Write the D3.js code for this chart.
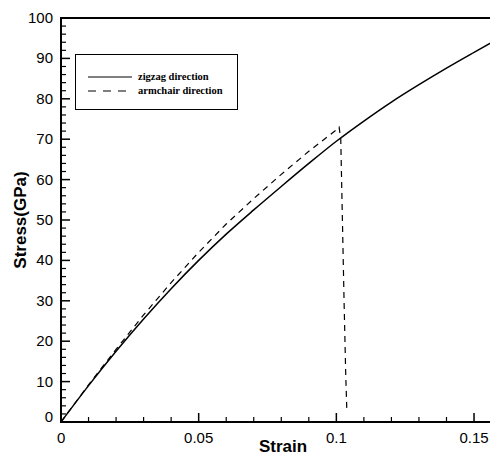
<!DOCTYPE html>
<html>
<head>
<meta charset="utf-8">
<script src="https://cdn.jsdelivr.net/npm/d3@7"></script>
<style>
  body { margin: 0; background: #fff; }
  svg { display: block; }
</style>
</head>
<body>
<script>
// strain / stress
var zigzagStrain = [0, 0.01, 0.02, 0.03, 0.04, 0.05, 0.06, 0.07, 0.08, 0.09, 0.10, 0.11, 0.12, 0.13, 0.14, 0.15, 0.156];
var zigzagStress = [0, 9, 17.5, 25.5, 33, 40, 46.5, 52.5, 58.3, 64, 69.5, 74.5, 79.2, 83.5, 87.6, 91.5, 93.8];

var armchairStrain = [0, 0.01, 0.02, 0.03, 0.04, 0.05, 0.06, 0.07, 0.08, 0.09, 0.10, 0.101, 0.1016, 0.1022, 0.1028, 0.1034, 0.1038];
var armchairStress = [0, 9.2, 18, 26.5, 34.5, 42, 49, 55.3, 61.3, 67, 72.3, 73, 70, 50, 30, 12, 3];

var xTicks = [0, 0.05, 0.1, 0.15];
var yTicks = [0, 10, 20, 30, 40, 50, 60, 70, 80, 90, 100];
var legendLabels = ["zigzag direction", "armchair direction"];

var width = 490, height = 457;
var svg = d3.select("body").append("svg")
            .attr("width", width)
            .attr("height", height);

var x = d3.scaleLinear().domain([0, 0.1558]).range([61, 490]);
var y = d3.scaleLinear().domain([0, 100]).range([422, 18]);

// minor ticks
var xMinor = d3.range(0, 0.1551, 0.01).filter(function (d) { return xTicks.indexOf(+d.toFixed(2)) < 0; });
var yMinor = d3.range(0, 100.1, 2).filter(function (d) { return d % 10 !== 0; });

svg.selectAll(".xminor").data(xMinor).enter().append("line")
   .attr("x1", function (d) { return x(d); }).attr("x2", function (d) { return x(d); })
   .attr("y1", 422).attr("y2", 417)
   .attr("stroke", "#000").attr("stroke-width", 1.2);
svg.selectAll(".xmajor").data(xTicks).enter().append("line")
   .attr("x1", function (d) { return x(d); }).attr("x2", function (d) { return x(d); })
   .attr("y1", 422).attr("y2", 413)
   .attr("stroke", "#000").attr("stroke-width", 1.5);
svg.selectAll(".yminor").data(yMinor).enter().append("line")
   .attr("y1", function (d) { return y(d); }).attr("y2", function (d) { return y(d); })
   .attr("x1", 61).attr("x2", 66)
   .attr("stroke", "#000").attr("stroke-width", 1.2);
svg.selectAll(".ymajor").data(yTicks).enter().append("line")
   .attr("y1", function (d) { return y(d); }).attr("y2", function (d) { return y(d); })
   .attr("x1", 61).attr("x2", 70)
   .attr("stroke", "#000").attr("stroke-width", 1.5);

// frame: left, bottom, top
svg.append("path")
   .attr("d", "M490," + y(100) + "H" + x(0) + "V" + y(0) + "H490")
   .attr("fill", "none").attr("stroke", "#000").attr("stroke-width", 2);

// tick labels
svg.selectAll(".xlab").data(xTicks).enter().append("text")
   .attr("x", function (d) { return x(d); })
   .attr("y", 443)
   .attr("text-anchor", function (d) { return d === 0 ? "start" : "middle"; })
   .attr("dx", function (d) { return d === 0 ? -4 : 0; })
   .attr("font-family", "Liberation Sans, Arial, sans-serif")
   .attr("font-size", 15)
   .text(function (d) { return d; });
svg.selectAll(".ylab").data(yTicks).enter().append("text")
   .attr("x", 53)
   .attr("y", function (d) { return y(d) + 5 - (d === 0 ? 5 : 0); })
   .attr("text-anchor", "end")
   .attr("font-family", "Liberation Sans, Arial, sans-serif")
   .attr("font-size", 15)
   .text(function (d) { return d; });

// axis titles
svg.append("text")
   .attr("x", 283).attr("y", 452)
   .attr("text-anchor", "middle")
   .attr("font-family", "Liberation Sans, Arial, sans-serif")
   .attr("font-size", 17).attr("font-weight", "bold")
   .text("Strain");
svg.append("text")
   .attr("transform", "translate(26,220) rotate(-90)")
   .attr("text-anchor", "middle")
   .attr("font-family", "Liberation Sans, Arial, sans-serif")
   .attr("font-size", 17).attr("font-weight", "bold")
   .text("Stress(GPa)");

// curves
var line = d3.line()
             .x(function (d) { return x(d[0]); })
             .y(function (d) { return y(d[1]); })
             .curve(d3.curveMonotoneX);

var zigzag = d3.zip(zigzagStrain, zigzagStress);
var armchair = d3.zip(armchairStrain, armchairStress);

svg.append("path").datum(zigzag)
   .attr("d", line)
   .attr("fill", "none").attr("stroke", "#000").attr("stroke-width", 1.5);
svg.append("path").datum(armchair)
   .attr("d", line.curve(d3.curveLinear))
   .attr("fill", "none").attr("stroke", "#000").attr("stroke-width", 1.2)
   .attr("stroke-dasharray", "6,5");

// legend
var legend = svg.append("g");
legend.append("rect")
      .attr("x", 75.5).attr("y", 54.5).attr("width", 162).attr("height", 55)
      .attr("fill", "#fff").attr("stroke", "#000").attr("stroke-width", 1);
legend.selectAll(".lg").data(legendLabels).enter().append("line")
      .attr("x1", 88).attr("x2", 132)
      .attr("y1", function (d, i) { return 77 + i * 14; })
      .attr("y2", function (d, i) { return 77 + i * 14; })
      .attr("stroke", "#000").attr("stroke-width", 1)
      .attr("stroke-dasharray", function (d, i) { return i === 0 ? null : "8,7"; });
legend.selectAll(".lt").data(legendLabels).enter().append("text")
      .attr("x", 138)
      .attr("y", function (d, i) { return 80 + i * 14; })
      .attr("font-family", "Liberation Serif, Times New Roman, serif")
      .attr("font-size", 10.5).attr("font-weight", "bold")
      .text(function (d) { return d; });
</script>
</body>
</html>
